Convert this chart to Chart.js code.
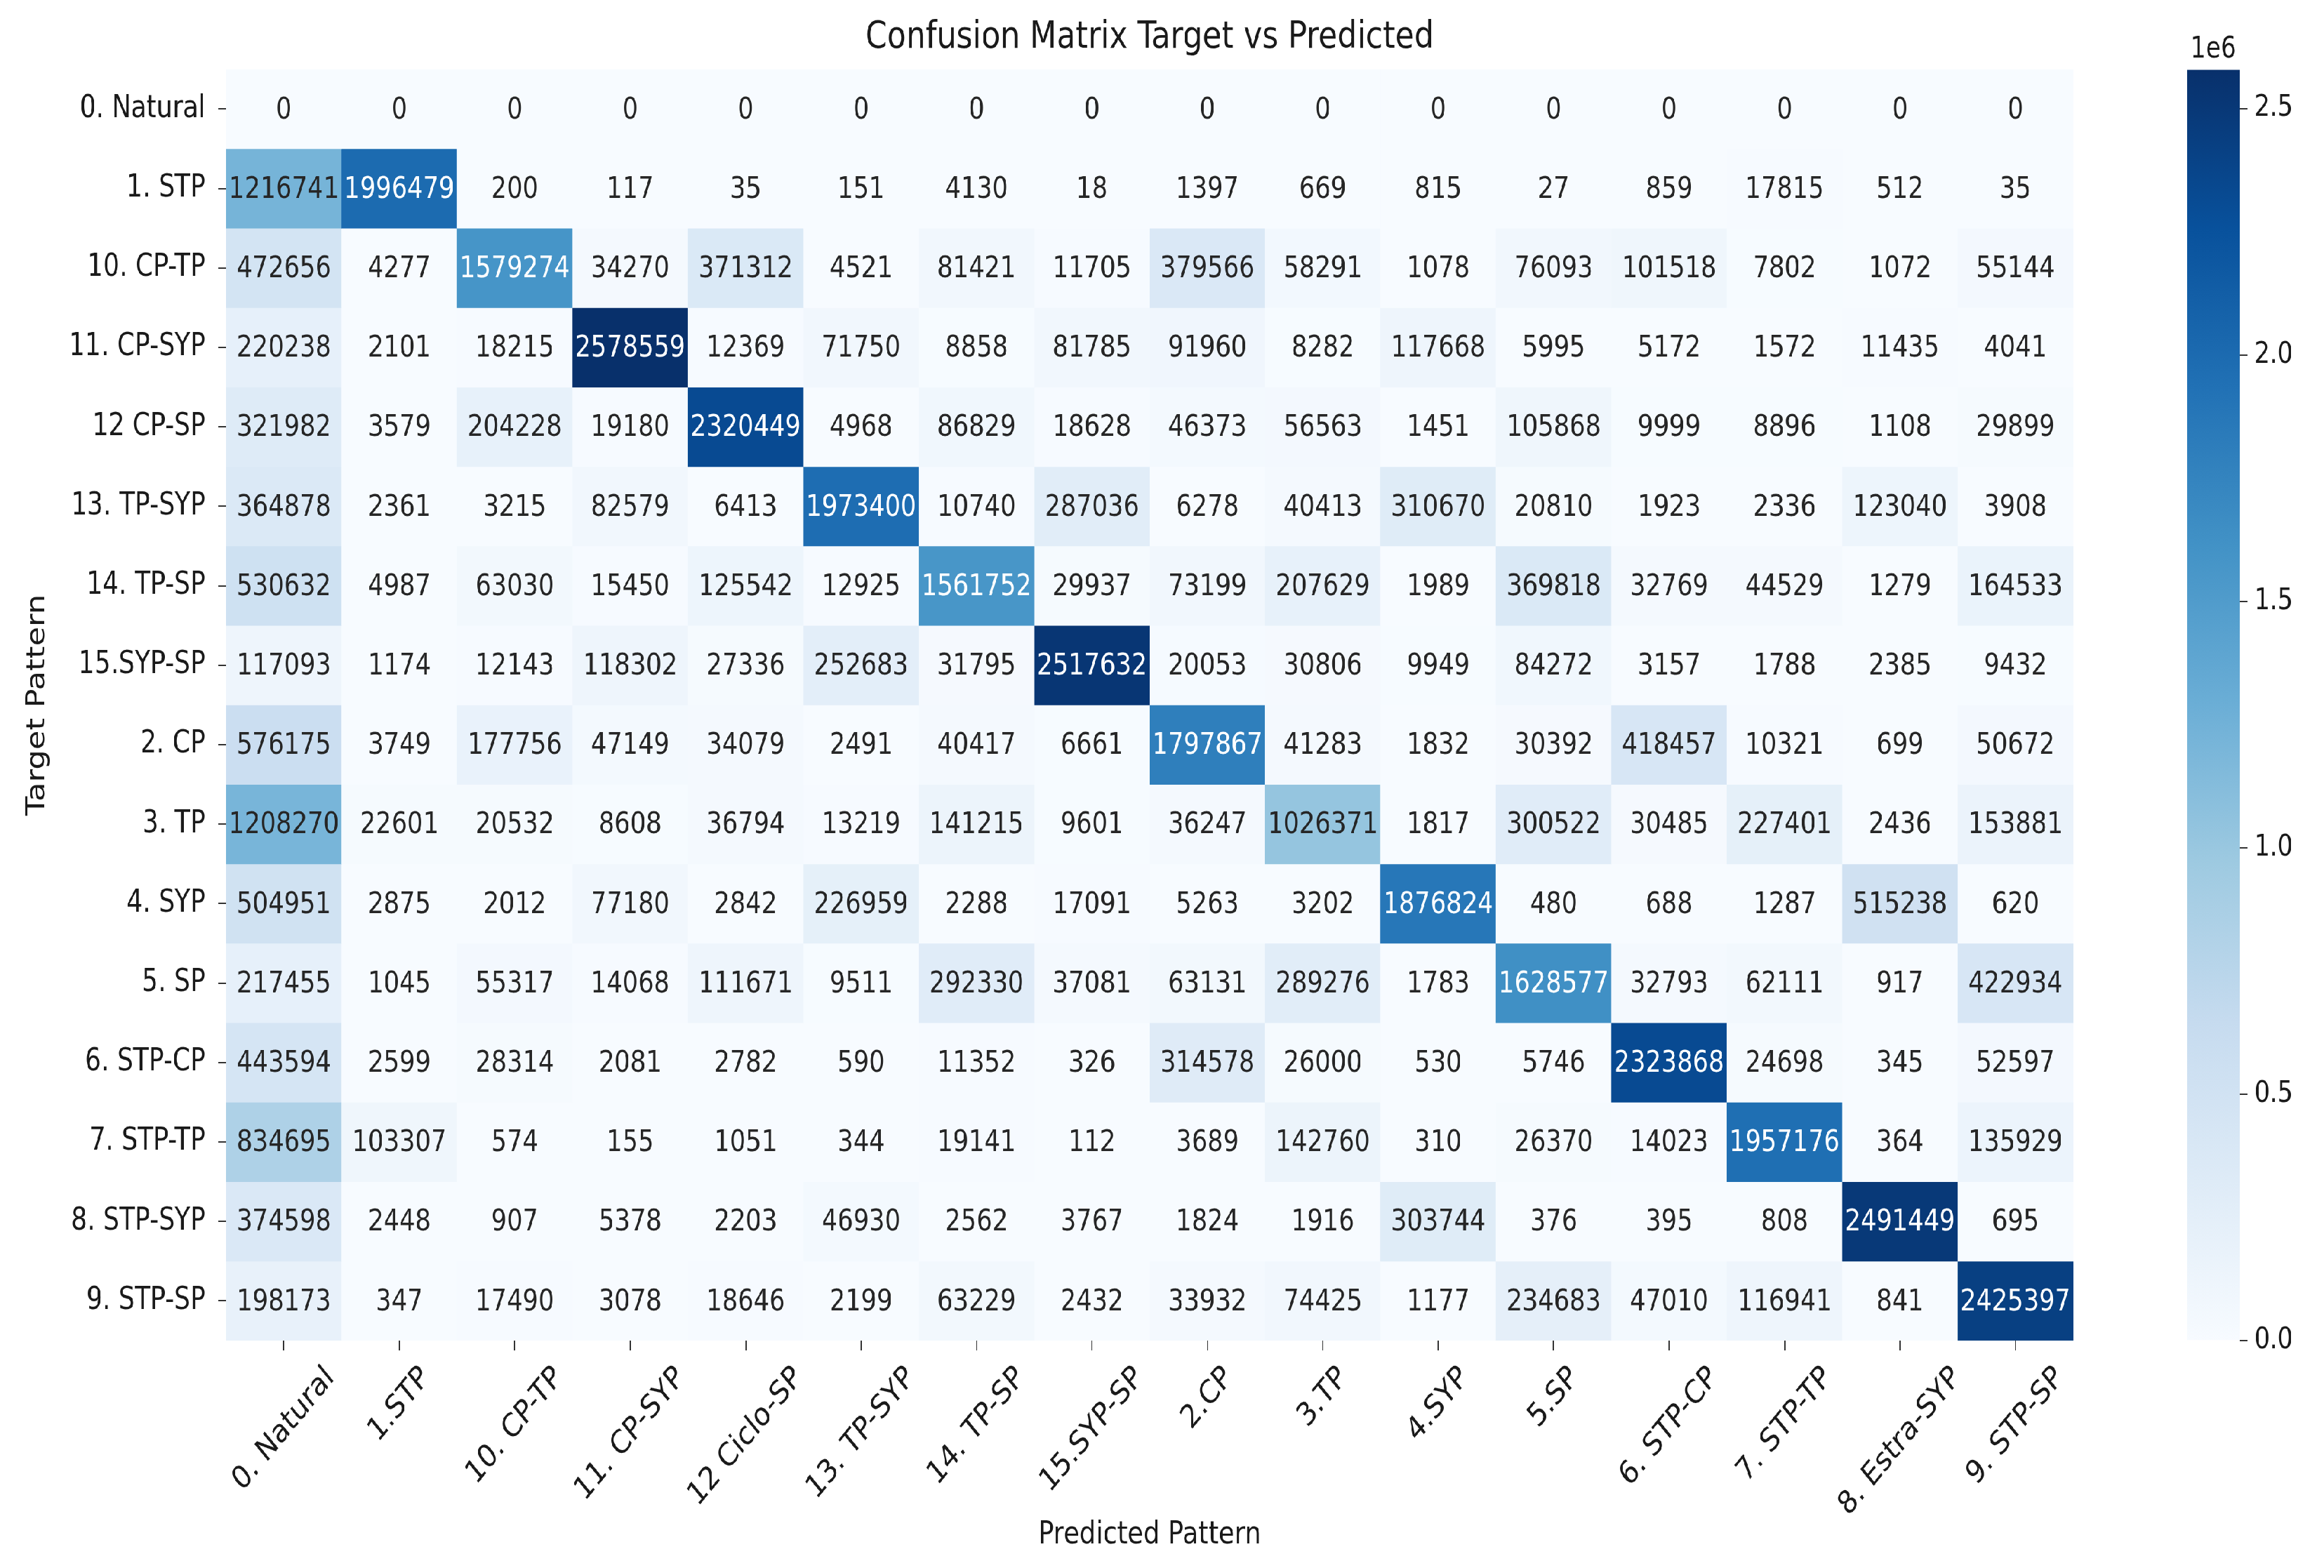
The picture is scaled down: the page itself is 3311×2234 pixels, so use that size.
<!DOCTYPE html>
<html lang="en">
<head>
  <meta charset="UTF-8">
  <title>Confusion Matrix Target vs Predicted</title>
  <script src="https://cdn.jsdelivr.net/npm/chart.js@4"></script>
  <style>
    html, body { margin: 0; padding: 0; background: #fff; overflow: hidden; }
    /* the reference picture is squeezed sideways, so the whole drawing is too */
    #wrap { position: absolute; left: 0; top: 0; width: 4038px; height: 2234px; transform: scaleX(0.82); transform-origin: 0 0; }
    #matrixChart { position: absolute; left: 0; top: 0; }
    #scaleChart { position: absolute; left: 3800px; top: 0; }
  </style>
</head>
<body>
<div id="wrap">
  <canvas id="matrixChart" width="4038" height="2234"></canvas>
  <canvas id="scaleChart" width="238" height="2234"></canvas>
</div>

<script>
  // target classes (rows) and predicted classes (columns)
  var rowLabels = ['0. Natural', '1. STP', '10. CP-TP', '11. CP-SYP', '12 CP-SP', '13. TP-SYP', '14. TP-SP', '15.SYP-SP',
                   '2. CP', '3. TP', '4. SYP', '5. SP', '6. STP-CP', '7. STP-TP', '8. STP-SYP', '9. STP-SP'];
  var colLabels = ['0. Natural', '1.STP', '10. CP-TP', '11. CP-SYP', '12 Ciclo-SP', '13. TP-SYP', '14. TP-SP', '15.SYP-SP',
                   '2.CP', '3.TP', '4.SYP', '5.SP', '6. STP-CP', '7. STP-TP', '8. Estra-SYP', '9. STP-SP'];

  // counts per target row
  var rowNatural = [0, 0, 0, 0, 0, 0, 0, 0, 0, 0, 0, 0, 0, 0, 0, 0];
  var rowStp     = [1216741, 1996479, 200, 117, 35, 151, 4130, 18, 1397, 669, 815, 27, 859, 17815, 512, 35];
  var rowCpTp    = [472656, 4277, 1579274, 34270, 371312, 4521, 81421, 11705, 379566, 58291, 1078, 76093, 101518, 7802, 1072, 55144];
  var rowCpSyp   = [220238, 2101, 18215, 2578559, 12369, 71750, 8858, 81785, 91960, 8282, 117668, 5995, 5172, 1572, 11435, 4041];
  var rowCpSp    = [321982, 3579, 204228, 19180, 2320449, 4968, 86829, 18628, 46373, 56563, 1451, 105868, 9999, 8896, 1108, 29899];
  var rowTpSyp   = [364878, 2361, 3215, 82579, 6413, 1973400, 10740, 287036, 6278, 40413, 310670, 20810, 1923, 2336, 123040, 3908];
  var rowTpSp    = [530632, 4987, 63030, 15450, 125542, 12925, 1561752, 29937, 73199, 207629, 1989, 369818, 32769, 44529, 1279, 164533];
  var rowSypSp   = [117093, 1174, 12143, 118302, 27336, 252683, 31795, 2517632, 20053, 30806, 9949, 84272, 3157, 1788, 2385, 9432];
  var rowCp      = [576175, 3749, 177756, 47149, 34079, 2491, 40417, 6661, 1797867, 41283, 1832, 30392, 418457, 10321, 699, 50672];
  var rowTp      = [1208270, 22601, 20532, 8608, 36794, 13219, 141215, 9601, 36247, 1026371, 1817, 300522, 30485, 227401, 2436, 153881];
  var rowSyp     = [504951, 2875, 2012, 77180, 2842, 226959, 2288, 17091, 5263, 3202, 1876824, 480, 688, 1287, 515238, 620];
  var rowSp      = [217455, 1045, 55317, 14068, 111671, 9511, 292330, 37081, 63131, 289276, 1783, 1628577, 32793, 62111, 917, 422934];
  var rowStpCp   = [443594, 2599, 28314, 2081, 2782, 590, 11352, 326, 314578, 26000, 530, 5746, 2323868, 24698, 345, 52597];
  var rowStpTp   = [834695, 103307, 574, 155, 1051, 344, 19141, 112, 3689, 142760, 310, 26370, 14023, 1957176, 364, 135929];
  var rowStpSyp  = [374598, 2448, 907, 5378, 2203, 46930, 2562, 3767, 1824, 1916, 303744, 376, 395, 808, 2491449, 695];
  var rowStpSp   = [198173, 347, 17490, 3078, 18646, 2199, 63229, 2432, 33932, 74425, 1177, 234683, 47010, 116941, 841, 2425397];

  var colorbarTicks = [0, 500000, 1000000, 1500000, 2000000, 2500000];

  var matrix = [rowNatural, rowStp, rowCpTp, rowCpSyp, rowCpSp, rowTpSyp, rowTpSp, rowSypSp,
                rowCp, rowTp, rowSyp, rowSp, rowStpCp, rowStpTp, rowStpSyp, rowStpSp];
  var vmax = Math.max.apply(null, matrix.map(function(r) { return Math.max.apply(null, r); }));

  var FONT = 'DejaVu Sans';
  var INK = '#1a1a1a';

  // matplotlib "Blues"
  var blues = [[247,251,255],[222,235,247],[198,219,239],[158,202,225],[107,174,214],
               [66,146,198],[33,113,181],[8,81,156],[8,48,107]];
  function bluesRgb(t) {
    t = Math.max(0, Math.min(1, t));
    var p = t * 8, i = Math.min(7, Math.floor(p)), f = p - i;
    return blues[i].map(function(c, k) { return Math.round(c + (blues[i + 1][k] - c) * f); });
  }
  function rgbStr(c) { return 'rgb(' + c.join(',') + ')'; }
  function textColor(v) {
    var lin = bluesRgb(v / vmax).map(function(c) {
      c = c / 255;
      return c <= 0.03928 ? c / 12.92 : Math.pow((c + 0.055) / 1.055, 2.4);
    });
    var lum = 0.2126 * lin[0] + 0.7152 * lin[1] + 0.0722 * lin[2];
    return lum > 0.408 ? '#262626' : '#ffffff';
  }

  // one floating-bar dataset per target row
  var datasets = matrix.map(function(row, r) {
    return {
      data: row.map(function() { return [r, r + 1]; }),
      backgroundColor: row.map(function(v) { return rgbStr(bluesRgb(v / vmax)); }),
      borderWidth: 0,
      grouped: false,
      barPercentage: 1,
      categoryPercentage: 1
    };
  });

  // numbers inside the cells
  var cellText = {
    id: 'cellText',
    afterDatasetsDraw: function(chart) {
      var ctx = chart.ctx;
      ctx.save();
      ctx.font = '43px "' + FONT + '"';
      ctx.textAlign = 'center';
      ctx.textBaseline = 'middle';
      chart.data.datasets.forEach(function(ds, r) {
        chart.getDatasetMeta(r).data.forEach(function(bar, c) {
          var v = matrix[r][c];
          ctx.fillStyle = textColor(v);
          ctx.fillText(String(v), bar.x, (bar.y + bar.base) / 2 + 2);
        });
      });
      ctx.restore();
    }
  };

  // rotated x labels, centred under their ticks like matplotlib
  var xLabels = {
    id: 'xLabels',
    afterDraw: function(chart) {
      var ctx = chart.ctx, xs = chart.scales.x;
      ctx.save();
      ctx.font = '46px "' + FONT + '"';
      ctx.fillStyle = INK;
      ctx.textAlign = 'center';
      ctx.textBaseline = 'middle';
      colLabels.forEach(function(lab, i) {
        var x = xs.getPixelForTick(i);
        var w = ctx.measureText(lab).width;
        var half = (w + 34) * Math.SQRT1_2 / 2;
        ctx.save();
        ctx.translate(x, xs.top + 34 + half);
        ctx.rotate(-Math.PI / 4);
        ctx.fillText(lab, 0, 0);
        ctx.restore();
      });
      ctx.restore();
    }
  };

  new Chart(document.getElementById('matrixChart'), {
    type: 'bar',
    data: { labels: colLabels, datasets: datasets },
    plugins: [cellText, xLabels],
    options: {
      responsive: false,
      animation: false,
      devicePixelRatio: 1,
      layout: { padding: { left: 0, top: 0, right: 436, bottom: 0 } },
      plugins: {
        legend: { display: false },
        tooltip: { enabled: false },
        title: {
          display: true,
          text: 'Confusion Matrix Target vs Predicted',
          fullSize: false,
          color: INK,
          font: { family: FONT, size: 54, weight: 'normal' },
          padding: { top: 22, bottom: 12 }
        }
      },
      scales: {
        x: {
          type: 'category',
          offset: true,
          grid: { offset: false, drawOnChartArea: false, tickLength: 14, color: '#333', lineWidth: 2 },
          border: { display: false },
          ticks: { display: false, autoSkip: false },
          title: {
            display: true, text: 'Predicted Pattern', color: INK,
            font: { family: FONT, size: 45 }, padding: { top: 0, bottom: 20 }
          },
          afterFit: function(s) { s.height = 324; }
        },
        y: {
          type: 'linear',
          min: 0,
          max: 16,
          reverse: true,
          afterBuildTicks: function(s) {
            s.ticks = rowLabels.map(function(l, i) { return { value: i + 0.5 }; });
          },
          grid: { drawOnChartArea: false, tickLength: 14, color: '#333', lineWidth: 2 },
          border: { display: false },
          ticks: {
            color: INK,
            padding: 22,
            font: { family: FONT, size: 44 },
            callback: function(v) { return rowLabels[Math.floor(v)]; }
          },
          title: {
            display: true, text: 'Target Pattern', color: INK,
            font: { family: FONT, size: 45 }, padding: { top: 38, bottom: 0 }
          },
          afterFit: function(s) { s.width = 393; }
        }
      }
    }
  });

  // colour bar
  new Chart(document.getElementById('scaleChart'), {
    type: 'bar',
    data: {
      labels: [''],
      datasets: [{
        data: [vmax],
        borderWidth: 0,
        barPercentage: 1,
        categoryPercentage: 1,
        backgroundColor: function(c) {
          var a = c.chart.chartArea;
          if (!a) return rgbStr(blues[4]);
          var g = c.chart.ctx.createLinearGradient(0, a.bottom, 0, a.top);
          blues.forEach(function(col, i) { g.addColorStop(i / 8, rgbStr(col)); });
          return g;
        }
      }]
    },
    options: {
      responsive: false,
      animation: false,
      devicePixelRatio: 1,
      layout: { padding: { left: 0, top: 0, right: 0, bottom: 324 } },
      plugins: {
        legend: { display: false },
        tooltip: { enabled: false },
        title: {
          display: true, text: '1e6', fullSize: false, color: INK,
          font: { family: FONT, size: 42, weight: 'normal' },
          padding: { top: 46, bottom: 3 }
        }
      },
      scales: {
        x: { display: false },
        y: {
          position: 'right',
          min: 0,
          max: vmax,
          afterBuildTicks: function(s) {
            s.ticks = colorbarTicks.map(function(v) { return { value: v }; });
          },
          grid: { drawOnChartArea: false, tickLength: 14, color: '#333', lineWidth: 2 },
          border: { display: false },
          ticks: {
            color: INK,
            padding: 12,
            font: { family: FONT, size: 42 },
            callback: function(v) { return (v / 1e6).toFixed(1); }
          },
          afterFit: function(s) { s.width = 147; }
        }
      }
    }
  });
</script>
</body>
</html>
